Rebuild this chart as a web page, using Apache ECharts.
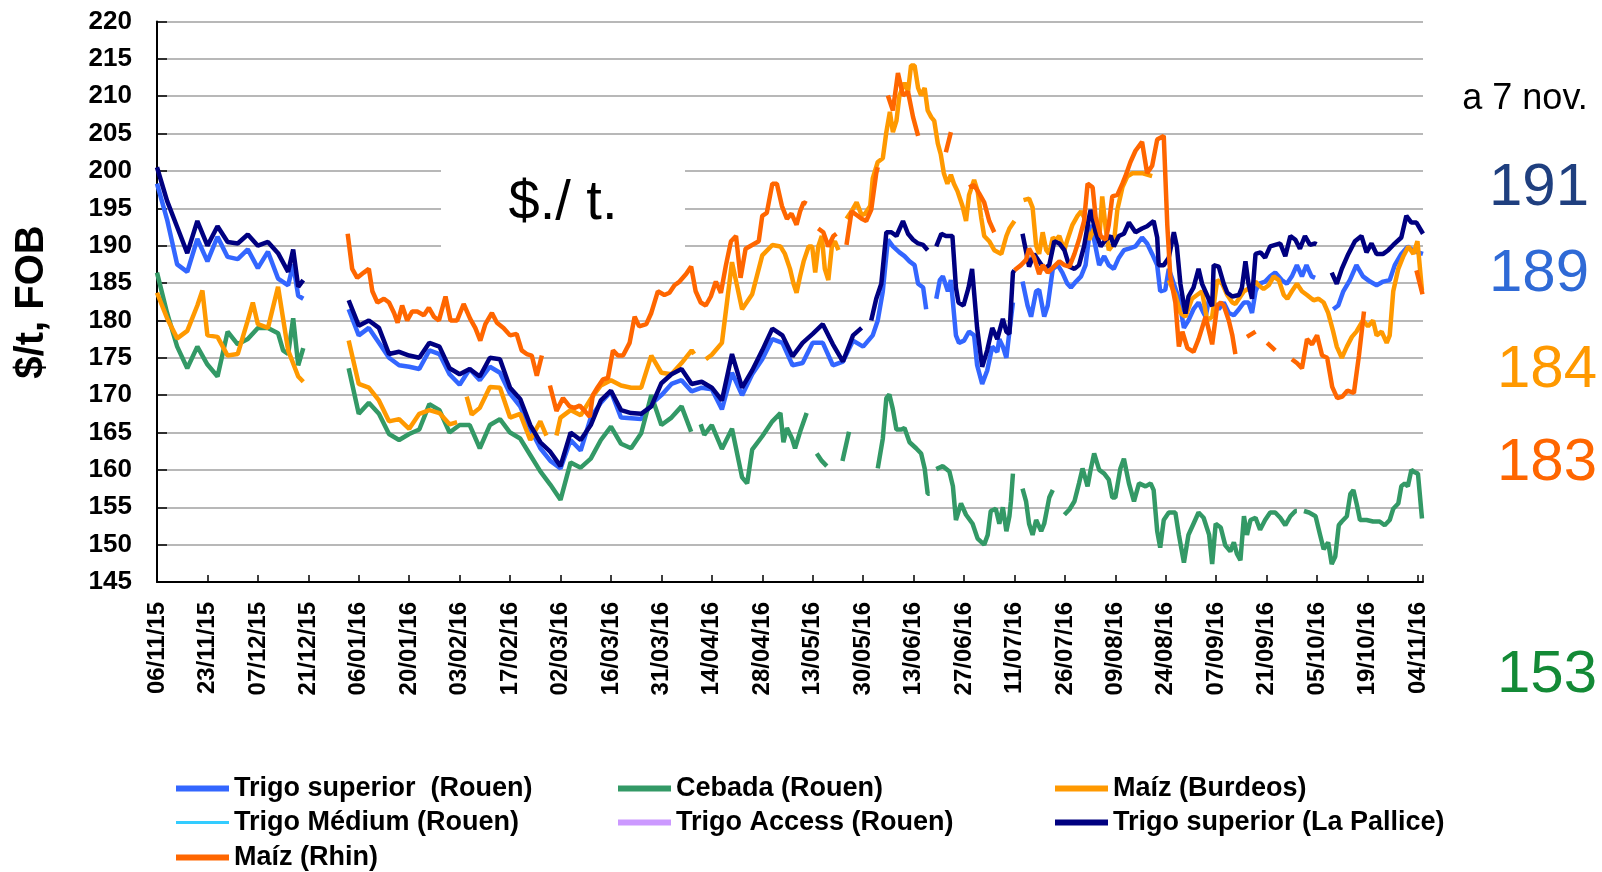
<!DOCTYPE html>
<html><head><meta charset="utf-8">
<script src="https://cdn.jsdelivr.net/npm/echarts@6.0.0/dist/echarts.min.js"></script>
<style>html,body{margin:0;padding:0;background:#fff}#c{width:1602px;height:872px}</style>
</head><body><div id="c"></div>
<script>
// x = trading-day index (0 = 06/11/15), tick labels every 10 trading days
const tickLabels = ['06/11/15','23/11/15','07/12/15','21/12/15','06/01/16','20/01/16','03/02/16','17/02/16','02/03/16','16/03/16','31/03/16','14/04/16','28/04/16','13/05/16','30/05/16','13/06/16','27/06/16','11/07/16','26/07/16','09/08/16','24/08/16','07/09/16','21/09/16','05/10/16','19/10/16','04/11/16'];
const seriesNames = ['Trigo superior  (Rouen)','Cebada (Rouen)','Maíz (Burdeos)','Trigo Médium (Rouen)','Trigo Access (Rouen)','Trigo superior (La Pallice)','Maíz (Rhin)'];
const lastValues = ['191','189','184','183','153'];

const trigoSupRouen = [[0,198.3],[2,193.5],[4,187.5],[6,186.5],[8,190.9],[10,187.9],[12,191.2],[14,188.5],[16,188.2],[18,189.5],[20,187],[22,189.2],[24,185.6],[26,184.7],[27,187.5],[28,183.3],[29,182.9],[30,null],
[38,181.5],[40,178],[42,179],[44,177],[46,175],[48,174],[50,173.8],[52,173.5],[54,176],[56,175.5],[58,172.8],[60,171.4],[62,173.5],[64,172],[66,173.8],[68,173],[70,170.2],[72,168.5],[74,165.5],[76,162.9],[78,161.2],[80,160.2],[82,164],
[84,162.6],[86,167],[88,169],[90,170.5],[92,167],[94,166.9],[96,166.8],[98,168.8],[100,170],[102,171.5],[104,172],[106,170.5],[108,171],[110,170.8],[112,168.1],[114,173],[116,170],[118,172.8],[120,174.8],[122,177.5],[124,177],
[126,174],[128,174.3],[130,177],[132,177],[134,174],[136,174.5],[138,177.3],[140,176.5],[141.9,178],[142.9,180],[143.9,183.9],[144.9,190.8],[145.9,189.9],[147.2,189.1],[148.2,188.6],[149.2,187.9],[150.2,187.4],[150.9,184.9],[151.9,184.4],[152.5,181.5],[153.5,null],
[154.5,182.9],[155.2,185.4],[155.8,185.9],[156.8,183.9],[157.4,185.4],[158.4,178],[159,177],[160,177.3],[161,178.5],[162,178],[162.6,174],[163.6,171.5],[164.6,173.3],[165.6,176.5],[166.6,175.8],
[167,177.5],[167.7,176.5],[168.4,175],[169,178.5],[169.7,182.4],[170.6,null],[171.6,185.2],[172.6,182],[173.3,180.5],[174.3,183.9],[174.9,184.1],[175.9,180.5],[176.6,182],[177.6,186.9],[178.6,187.4],[179.5,186.4],[180.5,184.9],[181.2,184.4],[182.2,185.2],[183.2,185.9],[184.1,187.4],[185.1,192.8],[185.8,190.8],[186.8,187.4],[187.8,188.6],[188.7,187.4],[189.7,186.9],[190.7,188.4],[191.7,189.4],[192.7,189.6],[194,189.9],[195.3,191.1],[196.3,190.3],[197.3,188.9],[198.3,187.4],[198.9,183.9],[199.9,184.1],[200.6,186.9],[201.6,184.9],[202.6,182.9],[203.6,179],[204.5,180],[205.5,181.5],[206.5,182.4],[207.5,181],[207.9,180.5],[208.6,182.9],
[209.5,182.4],[210.5,181.5],[211.5,182.4],[212.5,181],[213.5,180.7],[214.5,181.5],[215.5,182.4],[216.4,182.4],[217.1,181],[217.8,183.9],[218.4,184.9],[219.7,185.2],[220.7,185.9],[221.7,186.4],[223,185.4],[224,184.9],[225,185.9],[226,187.4],[227,185.9],[227.9,187.4],[228.9,185.9],[229.6,185.7],[230.5,null],
[233.2,181.5],[234.2,182],[235.2,183.9],[236.5,185.4],[237.8,187.4],[239.1,185.9],[240.5,185.2],[241.8,184.7],[243.1,185.2],[244.4,185.4],[245.4,187.4],[246.7,188.9],[248,189.9],[249,189.4],[250,189.1],[251,188.9]];

const cebadaRouen = [[0,186.4],[2,181],[4,176.5],[6,173.6],[8,176.5],[10,174.1],[12,172.5],[14,178.5],[16,176.8],[18,177.5],[20,179],[22,179],[24,178.3],[25,176],[26,175.5],[27,180.3],[28,174],[29,176.3],[30,null],
[38,173.6],[40,167.5],[42,169],[44,167.5],[46,164.8],[48,164],[50,164.8],[52,165.4],[54,168.8],[56,168],[58,165],[60,166],[62,166],[64,162.9],[66,166],[68,166.8],[70,165],[72,164.2],[74,162],[76,159.8],[78,158],[80,156],[82,161],
[84,160.3],[86,161.5],[88,164],[90,165.8],[92,163.5],[94,162.9],[96,164.9],[98,170],[100,166],[102,167],[104,168.5],[105.9,165.1],[106.8,null],[107.8,166.1],[108.5,164.7],[110,166],[112,162.8],[114,165.5],[116,159],[117,158.2],[118,162.7],[120,164.5],[122,166.5],[123.6,167.6],
[124.2,163.7],[124.9,165.6],[125.9,164.2],[126.5,162.9],[127.5,165.1],[128.8,167.6],[129.8,null],[130.8,162.2],[131.8,161.2],[132.8,160.5],[134,null],[135.9,161.2],[137.2,165.1],[138,null],
[142.9,160.2],[143.9,164.2],[144.6,169.6],[145.2,170.1],[145.9,168.1],[146.6,165.4],[147.6,165.4],[148.2,165.6],[149.2,163.7],[150.5,162.9],[151.5,162.2],[152.2,160.2],[152.8,156.8],[153.2,156.8],[153.8,null],
[154.5,160.1],[155.8,160.5],[157.1,159.8],[157.8,157.8],[158.4,153.3],[159.4,155.5],[160.4,154],[161.7,152.8],[162.7,150.8],[164,150],[164.7,151.3],[165.3,154.5],[166.3,154.8],[167,152.8],[167.7,155],[168.4,151.8],[169,153.8],[169.3,155.8],[169.7,159.5],[170.6,null],
[171.6,157.5],[172.3,155.8],[172.9,152.8],[173.6,151.3],[174.3,153.3],[175.3,151.8],[175.9,152.8],[176.9,156.3],[177.6,157.3],[178.7,null],
[179.9,154],[180.9,154.7],[181.9,155.8],[182.8,158.2],[183.5,160.2],[184.5,157.8],[185.1,160],[185.8,162.2],[186.8,160],[187.8,159.5],[188.7,158.7],[189.4,156.3],[190,156.3],[191,160.2],[191.7,161.5],[192.7,158.2],[193.7,155.8],[194.7,158.2],[196,157.8],[197,158.2],[197.6,157.3],[198.3,151.8],[198.9,149.6],[199.6,153.3],[200.6,154.3],[201.9,154.3],[202.6,151.3],[203.6,147.6],[204.5,151.3],[205.5,152.8],[206.5,154.3],[207.5,153.6],
[208.6,151.3],[209.2,147.4],[209.9,152.8],[210.9,152.3],[211.8,149.9],[212.8,149.1],[213.5,150.3],[214.1,148.8],[214.8,147.9],[215.5,153.8],[216.1,151.3],[216.8,153.3],[217.8,153.6],[218.7,152],[219.7,153.3],[220.7,154.3],[221.7,154.3],[222.7,153.6],[223.7,152.6],[224.7,153.8],[225.7,154.5],[226,154.5],[226.7,null],
[227.4,154.5],[228.4,154.3],[229.7,153.8],[230.6,151.3],[231.3,149.4],[232.2,150.3],[232.9,147.4],[233.6,148.4],[234.3,152.6],[234.9,153.1],[235.9,153.8],[236.6,156.8],[237.2,157.3],[237.9,155.3],[238.5,153.3],[239.8,153.3],[241.1,153.1],[242.4,153.1],[243.4,152.6],[244.4,153.3],[245.1,154.8],[246.1,155.5],[246.7,157.8],[247.4,158.2],[248,157.8],[248.7,160],[249.3,159.7],[250,159.5],[250.8,153.5]];

const maizBurdeos = [[0,183.7],[2,180.3],[4,177.6],[6,178.6],[8,182],[9,184],[10,178],[12,177.8],[14,175.3],[16,175.5],[18,180],[19,182.4],[20,179.5],[22,179],[24,184.5],[26,176],[28,172.5],[29,171.8],[30,null],
[38,177.3],[40,171.5],[42,171],[44,169.3],[46,166.5],[48,166.8],[50,165.5],[52,167.5],[54,168],[56,167.6],[58,166.1],[59.5,166.4],[60.5,null],[61.4,169.8],[62.4,167.4],[64,168.3],[66,171.1],[68,171],[70,167],[72,167.5],[74,164],[76,166.5],[77.2,164.6],[78.2,null],[79.2,164.6],[80,167],[82,168],
[84,167.3],[86,169.5],[88,171.3],[90,172],[92,171.3],[94,171],[96,171],[98,175.3],[100,173],[102,172.8],[104,174.3],[106,176],[106.5,175.5],[107.6,null],[108.8,174.8],[110,175.4],[112,177],[114,187.8],[116,181.5],[118,183.5],[120,188.7],[122,190.1],[123.6,189.9],
[124.5,188.9],[125.5,186.9],[126.2,184.9],[126.8,183.7],[127.5,185.9],[128.2,187.9],[129.2,189.9],[129.9,189.9],[130.5,186.4],[131.1,189.9],[131.8,191.3],[132.4,186.9],[133.1,185.4],[133.8,189.9],[134.4,190.6],[135.1,189.4],[135.9,null],
[136.7,193.6],[137.7,194.6],[138.7,195.8],[139.7,194.1],[140.4,194.3],[141.4,195.3],[141.9,199],[142.9,201.2],[143.9,201.7],[144.6,205.2],[145.3,207.9],[145.9,205.2],[146.6,206.7],[147.2,210.1],[148.2,211.8],[148.9,210.6],[149.5,214.1],[150.2,214.1],[150.9,211.1],[151.5,210.1],[152.2,211.1],[152.8,208.1],[153.5,207.2],[154.1,206.7],[154.8,203.7],[155.4,202.2],[156,199.7],[156.7,198.3],[157.4,199.5],[158,198.3],[158.7,197.3],[159.7,195.3],[160.4,193.3],[161,196.8],[162,198.8],[162.7,197.3],[163.4,193.8],[164,191.3],[165,190.6],[166,189.4],[167.4,188.9],[168.4,191.3],[169,192.3],[170,193.3],[170.8,null],
[171.8,196.1],[172.9,196.3],[173.6,195.1],[174.3,190],[174.9,188.9],[175.6,191.8],[176.3,189.4],[176.9,188.9],[177.6,191.1],[178.2,190.8],[178.9,191.3],[179.9,189.4],[180.5,190.8],[181.5,192.8],[182.5,194],[183.2,194.6],[183.8,193.8],[184.8,190.8],[185.8,192.3],[186.8,190.8],[187.4,196.6],[188.1,192.3],[188.7,189.4],[189.7,190.3],[190.4,194.8],[191.4,197.8],[192.4,199.3],[193.4,199.7],[194.3,199.7],[195.3,199.7],[196.3,199.5],[197.3,199.3],[198,null],
[200.6,185.4],[201.9,183.4],[202.9,181],[203.9,180.5],[205.2,182.9],[206.2,183.4],[207.2,183.9],[208.2,180],[209.2,180.5],[210.2,185.4],[211.2,184.9],[212.2,183.4],[213.2,182.4],[213.8,182.2],[215.5,183.9],[216.8,184.4],[217.8,185.2],[218.4,184.7],[219.4,184.2],[220.4,184.7],[221.4,185.9],[222.4,185.4],[223.4,183.4],[224.1,182.9],[225,183.9],[226,184.9],[227,183.9],[228,183.4],[229.3,182.7],[230.3,182.9],[231.3,182.4],[232.2,181],[233.2,178.5],[233.9,176.5],[234.9,175],[235.9,176.5],[236.9,177.8],[237.8,178.5],[239.1,180],[240.1,179.2],[241.1,180],[241.8,178],[242.8,178.5],[243.8,177],[244.4,178],[245.1,183.9],[246.1,186.9],[247.1,188.6],[248.1,189.9],[249.1,188.9],[249.9,190.6],[250.8,184]];

const trigoMediumRouen = [];
const trigoAccessRouen = [];

const trigoSupLaPallice = [[0,200.5],[2,196],[4,192.5],[6,189],[8,193.3],[10,190],[12,192.6],[14,190.5],[16,190.3],[18,191.5],[20,190],[22,190.5],[24,189],[26,186.5],[27,189.5],[28,184.5],[29,185.4],[30,null],
[38,182.7],[40,179.3],[42,180],[44,179],[46,175.5],[48,175.8],[50,175.3],[52,175],[54,177],[56,176.5],[58,173.6],[60,172.8],[62,173.5],[64,172.5],[66,175],[68,174.8],[70,171],[72,169.5],[74,166],[76,163.7],[78,162.4],[80,160.5],[82,165],
[84,164],[86,166],[88,169.3],[90,170.6],[92,168],[94,167.6],[96,167.5],[98,168.5],[100,171.6],[102,172.8],[104,173.5],[106,171.5],[108,171.8],[110,171],[112,169.3],[114,175.5],[116,171],[118,173.3],[120,176],[122,178.9],[124,178],
[126,175.2],[128,177],[130,178.2],[132,179.5],[134,176.8],[136,174.5],[138,178],[139.7,179],[140.6,null],
[141.6,180],[142.6,182.9],[143.6,184.9],[144.6,191.8],[145.6,191.8],[146.6,191.3],[147.9,193.3],[148.9,191.6],[149.9,190.8],[150.9,190.3],[151.9,190.1],[152.8,189.4],[153.6,null],
[154.5,189.9],[155.5,191.6],[156.4,191.3],[157.7,191.3],[158.4,184.4],[158.9,182.4],[159.9,182],[160.9,184.4],[161.6,186.9],[162.6,179],[163.6,173.8],[164.6,176],[165.6,179],[166.6,177.5],[167,178.5],[167.7,180.2],[168.4,178.5],[169,178.2],[169.7,186.4],[170,186.7],[170.8,null],
[171.6,191.6],[172.9,187.2],[173.9,188.9],[174.9,187.9],[175.9,186.9],[176.9,187.4],[177.9,190.6],[178.9,190.3],[179.9,189.4],[180.9,187.2],[181.9,186.9],[182.8,187.4],[183.8,189.9],[184.8,193.8],[185.1,194.8],[186.1,191.8],[187.1,189.9],[188.1,190.8],[189.1,191.3],[189.7,189.9],[190.7,191.3],[191.7,191.6],[192.7,193.1],[194,191.8],[195.3,192.3],[196.3,192.6],[197.6,193.3],[198.3,191.1],[198.6,187.4],[199.6,187.4],[200.6,188.4],[201.6,191.8],[202.2,189.9],[202.9,184.9],[203.9,180.9],[204.5,183.2],[205.5,184.4],[206.5,186.9],[207.2,184.9],[208.5,182.9],
[209.2,181.9],[209.5,187.4],[210.5,187.2],[211.5,184.9],[212.2,183.7],[213.2,183.2],[214.5,183.4],[215.1,184.4],[215.8,187.9],[216.4,184.9],[217.1,182.9],[217.8,188.9],[218.8,189.1],[219.7,188.4],[220.7,189.9],[221.7,190.1],[222.7,190.3],[223.7,188.6],[224.7,191.3],[225.7,190.8],[226.6,189.6],[227.6,191.3],[228.6,190.1],[229.6,190.3],[229.9,190.2],[231,null],
[232.9,186.4],[233.9,184.9],[234.9,186.9],[236.2,188.9],[237.5,190.6],[238.8,191.3],[239.8,189.1],[240.8,190.3],[241.8,188.9],[243.1,188.9],[244.1,189.4],[245.1,190.1],[246.7,191.1],[247.7,194],[248.7,193.1],[249.7,193.1],[251,191.6]];

const maizRhin = [[37.8,191.6],[38.7,186.9],[39.7,185.7],[41,186.4],[42,186.9],[42.7,183.9],[43.7,182.4],[45,182.9],[46,182.4],[47,181],[47.7,179.7],[48.6,182],[49.6,180],[50.6,181.2],[51.6,181.2],[52.9,180.7],[53.9,181.7],[54.9,180.5],[55.9,180],[57.2,183.2],[58.2,180],[59.5,180],[60.8,182.2],[62.1,180.2],[63.1,179],[64.1,177.3],[65.1,179.5],[66.4,181],[67.4,179.7],[68.7,179],[70,178],[71.3,178.2],[72.3,176],[73.3,175.5],[74.3,175.3],[75.3,172.6],[76.3,175.3],[77,null],
[77.9,171.3],[79.2,167.9],[80.5,169.6],[81.8,168.5],[82.8,168.3],[83.8,168.6],[84.8,167.9],[85.8,167.1],[86.4,170],[87.4,171.1],[88.4,172.1],[89.4,172.3],[90.4,176],[91.4,175.3],[92.4,175.3],[93.7,177],[94.7,180.5],[95.6,179.2],[97,179.5],[98,181],[99.3,183.9],[100.6,183.4],[101.6,183.7],[102.6,184.7],[103.6,185.2],[104.9,186.2],[105.9,187.2],[106.8,183.9],[107.8,182.4],[108.8,182],[109.8,183.2],[110.8,185.2],[111.8,183.7],[112.8,187.4],[113.8,190.6],[114.8,191.3],[115.7,185.7],[116.7,189.6],[118,190.1],[119.3,190.6],[120,194],[120.9,194.4],[122,198.3],[122.9,198.3],[123.9,195.3],[124.9,193.6],[125.8,194.3],[126.8,192.8],[127.5,194.6],[128.2,195.8],[128.8,195.6],[129.9,null],
[131.1,192.3],[132.1,191.8],[133.1,189.9],[134.1,191.3],[134.7,191.6],[135.7,null],
[136.7,190.1],[137.7,194.6],[138.7,194.1],[139.7,193.6],[140.6,193.3],[141.6,194.8],[142.6,199.7],[142.9,200.5],[143.9,null],
[144.9,210.1],[145.9,208.1],[146.9,213.1],[147.9,210.1],[148.9,210.6],[149.9,207.2],[150.9,204.7],[152,null],
[156.4,202.5],[157.4,205.2],[158.5,null],
[161,197.8],[162,198.1],[163,197],[164,195.8],[165,193.3],[166,191.8],[167,null],
[170,186.7],[171.3,187.4],[172.3,188.1],[172.9,189.6],[173.9,188.4],[174.9,186.2],[175.6,187.4],[176.6,186.4],[178.9,187.9],[179.9,187.4],[180.9,187.2],[181.9,188.9],[182.8,190.8],[183.8,193.3],[184.5,198.3],[185.5,197.8],[186.1,193.8],[187.1,191.3],[188.1,190.8],[188.7,192.8],[189.4,196.6],[190.4,196.8],[191.4,198.3],[192,199.3],[193,201.2],[194,202.7],[195.3,203.9],[196.3,199.7],[197.3,200.7],[198.3,204.2],[199.6,204.7],[200.3,192.8],[200.9,185.9],[201.9,182.4],[202.6,176.5],[203.3,178.5],[204.3,176.3],[205.5,175.8],[206.5,177.5],[207.9,180.5],[209.2,176.8],[210.2,182],[210.9,182.4],[211.5,182],[212.5,180],[213.2,178],[213.8,175.5],[214.8,null],
[216.1,177.8],[217.8,178.5],[218.8,null],
[220.1,177],[221.7,176],[223,null],
[225,174.8],[226,174.3],[227,173.6],[228,177.5],[229,176.8],[230,178],[231,175.3],[232,175],[233,171.1],[234,169.6],[235,169.8],[236,170.6],[237.3,170.3],[238.3,175.3],[239.3,181.2],[240.5,null],
[249.7,186.7],[250.9,183.5]];

const seriesData = [trigoSupRouen, cebadaRouen, maizBurdeos, trigoMediumRouen, trigoAccessRouen, trigoSupLaPallice, maizRhin];
const seriesColors = ['#3366FF','#339966','#FF9900','#33CCFF','#CC99FF','#000080','#FF6600'];
const legendPos = [[176,773],[618,773],[1055,773],[176,807],[618,807],[1055,807],[176,842]];
const FONT = '"Liberation Sans", Arial, Helvetica, sans-serif';

const chart = echarts.init(document.getElementById('c'), null, {renderer:'canvas'});

const legends = seriesNames.map((n, i) => ({
  data: [n], left: legendPos[i][0], top: legendPos[i][1], padding: 0,
  icon: 'rect', itemWidth: 53, itemHeight: i === 3 ? 3 : 6, selectedMode: false,
  textStyle: {fontSize: 27, fontWeight: 'bold', color: '#000', fontFamily: FONT, lineHeight: 31}
}));

const series = seriesNames.map((n, i) => ({
  name: n, type: 'line', showSymbol: false, symbol: 'none',
  data: seriesData[i].map(p => [p[0], p[1] === null ? '-' : p[1]]),
  lineStyle: {color: seriesColors[i], width: i === 3 ? 2 : 4.5},
  itemStyle: {color: seriesColors[i]},
  connectNulls: false, z: 2 + i * 0.01
}));

const txt = (t, x, y, size, color, align, extra) => Object.assign({
  type: 'text', x: x, y: y, z: 10,
  style: {text: t, fontSize: size, fontFamily: FONT, fill: color, align: align, verticalAlign: 'middle', textAlign: align, textVerticalAlign: 'middle'}
}, extra || {});

const option = {
  animation: false,
  backgroundColor: '#fff',
  grid: {left: 157, top: 21.5, width: 1266, height: 560.5, containLabel: false},
  xAxis: {
    type: 'value', min: 0, max: 251, interval: 10,
    axisLine: {show: true, lineStyle: {color: '#000', width: 2}},
    axisTick: {show: true, inside: true, length: 7, lineStyle: {color: '#000', width: 1.5}},
    splitLine: {show: false},
    axisLabel: {
      rotate: 90, margin: 20, fontSize: 24, fontWeight: 'bold', color: '#000', fontFamily: FONT,
      formatter: v => { const k = Math.round(v / 10); return (Math.abs(v - k * 10) < 1e-6 && k < tickLabels.length) ? tickLabels[k] : ''; }
    }
  },
  yAxis: {
    type: 'value', min: 145, max: 220, interval: 5,
    axisLine: {show: true, lineStyle: {color: '#000', width: 2}},
    axisTick: {show: true, inside: true, length: 10, lineStyle: {color: '#000', width: 1.5}},
    splitLine: {show: true, lineStyle: {color: '#a0a0a0', width: 1.5}},
    axisLabel: {margin: 25, fontSize: 26, fontWeight: 'bold', color: '#000', fontFamily: FONT}
  },
  legend: legends,
  graphic: [
    {type: 'rect', shape: {x: 441, y: 150, width: 244, height: 112}, style: {fill: '#fff'}, z: 1},
    txt('$./ t.', 563, 204, 56, '#000', 'center'),
    txt('$/t, FOB', 32, 302, 40, '#000', 'center', {rotation: Math.PI / 2}),
    txt('a 7 nov.', 1525, 99, 36, '#000', 'center'),
    txt(lastValues[0], 1589, 188, 60, '#1F3F7F', 'right'),
    txt(lastValues[1], 1589, 274, 60, '#2F6AD6', 'right'),
    txt(lastValues[2], 1597, 370, 60, '#FF9900', 'right'),
    txt(lastValues[3], 1597, 463, 60, '#FF6600', 'right'),
    txt(lastValues[4], 1597, 675, 60, '#138A36', 'right')
  ],
  series: series
};
option.graphic[2].style.fontWeight = 'bold';
chart.setOption(option);
</script>
</body></html>
